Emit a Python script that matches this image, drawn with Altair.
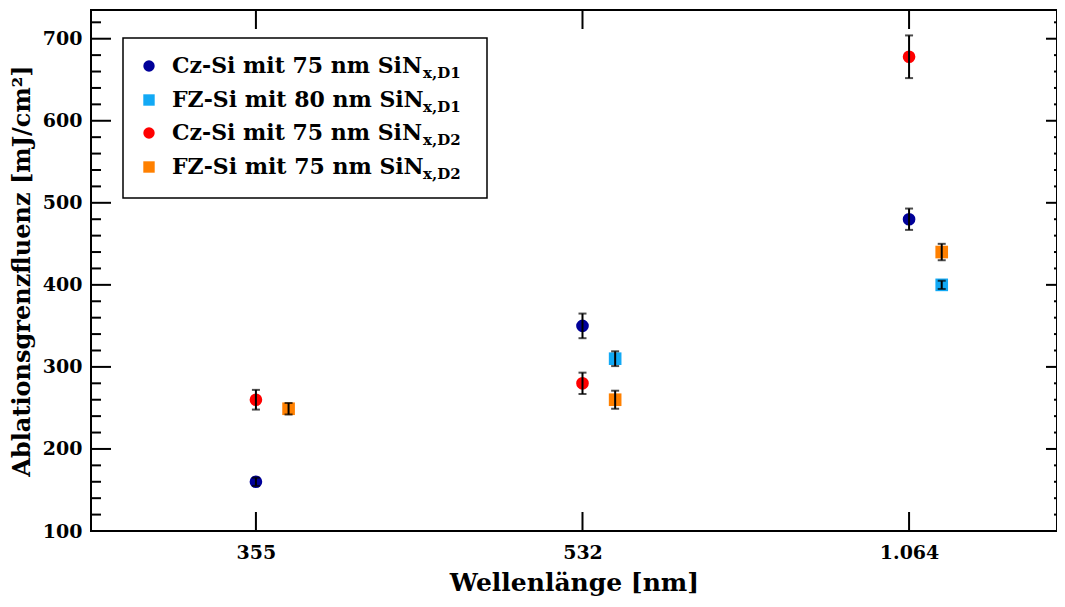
import json
import altair as alt
import pandas as pd

# ---------------- data ----------------
wavelengths = ["355", "532", "1.064"]

series_ids = ["CzD1", "FZD1", "CzD2", "FZD2"]
series_main = ["Cz-Si mit 75 nm SiN", "FZ-Si mit 80 nm SiN",
               "Cz-Si mit 75 nm SiN", "FZ-Si mit 75 nm SiN"]
series_sub = ["x,D1", "x,D1", "x,D2", "x,D2"]
series_colors = ["#000099", "#12A9F5", "#FF0000", "#FF8000"]
series_shapes = ["circle", "square", "circle", "square"]
series_offsets = [0.0, 0.1, 0.0, 0.1]

pt_series = ["CzD1", "CzD2", "FZD2",
             "CzD1", "CzD2", "FZD1", "FZD2",
             "CzD1", "CzD2", "FZD1", "FZD2"]
pt_wl = [0, 0, 0, 1, 1, 1, 1, 2, 2, 2, 2]
pt_value = [160, 260, 249, 350, 280, 310, 260, 480, 678, 400, 440]
pt_err = [5, 12, 7, 15, 13, 9, 11, 13, 26, 5, 10]

major_y = [100, 200, 300, 400, 500, 600, 700]
minor_y = [v for v in range(120, 740, 20) if v % 100 != 0]
x_ticks = [0, 1, 2]

# ---------------- build ----------------
W, H = 966, 521
FONT = "DejaVu Serif"
off = dict(zip(series_ids, series_offsets))
df = pd.DataFrame({
    "series": pt_series,
    "x": [w + off[s] for w, s in zip(pt_wl, pt_series)],
    "value": pt_value,
    "lo": [v - e for v, e in zip(pt_value, pt_err)],
    "hi": [v + e for v, e in zip(pt_value, pt_err)],
})

xscale = alt.Scale(domain=[-0.505, 2.453], nice=False, zero=False)
yscale = alt.Scale(domain=[100, 735], nice=False, zero=False)
label_expr = json.dumps(wavelengths) + "[datum.value]"

xaxis = alt.Axis(values=x_ticks, labelExpr=label_expr, title="Wellenlänge [nm]",
                 ticks=False, domain=False, grid=False, labelPadding=12,
                 labelFontSize=19, titleFontSize=25, titlePadding=8)
yaxis = alt.Axis(values=major_y, title="Ablationsgrenzfluenz [mJ/cm²]",
                 ticks=False, domain=False, grid=False, labelPadding=9,
                 labelFontSize=19, titleFontSize=24, titlePadding=8)

base = alt.Chart(df)

points = base.mark_point(filled=True, size=160, opacity=1).encode(
    x=alt.X("x:Q", scale=xscale, axis=xaxis),
    y=alt.Y("value:Q", scale=yscale, axis=yaxis),
    color=alt.Color("series:N", scale=alt.Scale(domain=series_ids, range=series_colors), legend=None),
    shape=alt.Shape("series:N", scale=alt.Scale(domain=series_ids, range=series_shapes), legend=None),
)

errbars = base.mark_errorbar(ticks={"size": 8, "color": "black", "strokeWidth": 2},
                             color="black", thickness=2).encode(
    x=alt.X("x:Q", scale=xscale),
    y=alt.Y("lo:Q", scale=yscale, title=""),
    y2="hi:Q",
)

# inward ticks
ymaj = pd.DataFrame({"v": major_y})
ymin = pd.DataFrame({"v": minor_y})
xt = pd.DataFrame({"v": x_ticks})
tick_layers = []
for data, x0, x1 in [(ymaj, 0, 20), (ymin, 0, 10), (ymaj, W - 11, W), (ymin, W - 3, W)]:
    tick_layers.append(alt.Chart(data).mark_rule(color="black", strokeWidth=2).encode(
        y=alt.Y("v:Q", scale=yscale), x=alt.value(x0), x2=alt.value(x1)))
for y0, y1 in [(0, 19), (H - 19, H)]:
    tick_layers.append(alt.Chart(xt).mark_rule(color="black", strokeWidth=2).encode(
        x=alt.X("v:Q", scale=xscale), y=alt.value(y0), y2=alt.value(y1)))

# manual legend
leg_box = alt.Chart(pd.DataFrame({"a": [0]})).mark_rect(
    fill="white", stroke="black", strokeWidth=1.5).encode(
    x=alt.value(32), x2=alt.value(396), y=alt.value(28), y2=alt.value(188))
legend_layers = [leg_box]
row_y = [56, 90, 123, 157]
for i in range(len(series_ids)):
    d = pd.DataFrame({"m": [series_main[i]], "s": [series_sub[i]]})
    legend_layers.append(alt.Chart(d).mark_point(
        filled=True, size=130, opacity=1, shape=series_shapes[i], color=series_colors[i]).encode(
        x=alt.value(58), y=alt.value(row_y[i])))
    legend_layers.append(alt.Chart(d).mark_text(
        align="left", baseline="middle", font=FONT, fontWeight="bold", fontSize=22).encode(
        text="m:N", x=alt.value(81), y=alt.value(row_y[i])))
    legend_layers.append(alt.Chart(d).mark_text(
        align="left", baseline="middle", font=FONT, fontWeight="bold", fontSize=15).encode(
        text="s:N", x=alt.value(332), y=alt.value(row_y[i] + 7)))

chart = alt.layer(*tick_layers, points, errbars, *legend_layers).properties(
    width=W, height=H,
    autosize=alt.AutoSizeParams(type="none"),
    padding={"left": 83, "top": 2, "right": 0, "bottom": 68},
).configure_view(
    stroke="black", strokeWidth=2
).configure_axis(
    labelFont=FONT, titleFont=FONT, labelFontWeight="bold", titleFontWeight="bold",
    labelColor="black", titleColor="black"
)

chart.save("out.html", embed_options={"renderer": "svg", "actions": False})
